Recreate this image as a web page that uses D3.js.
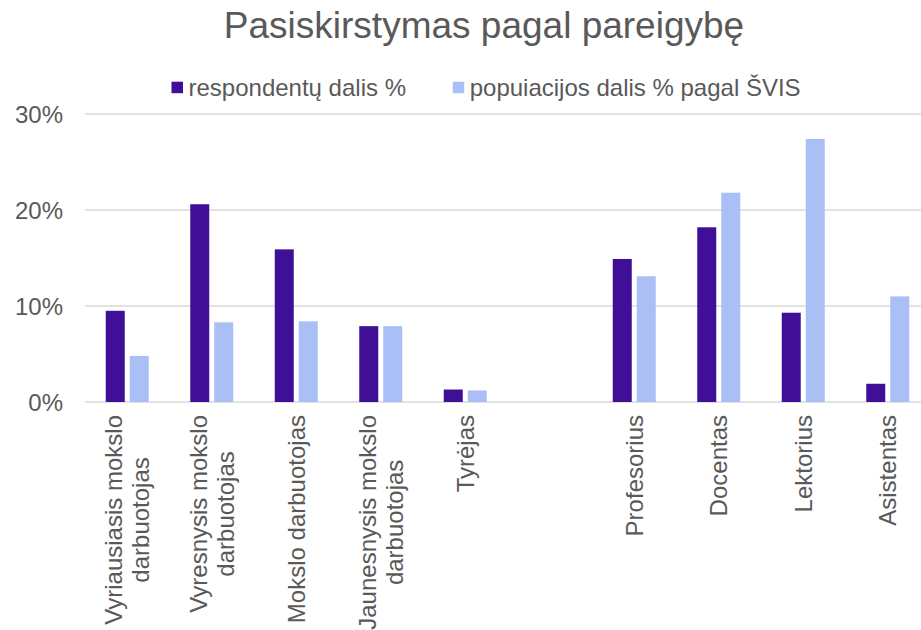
<!DOCTYPE html>
<html>
<head>
<meta charset="utf-8">
<script src="https://cdn.jsdelivr.net/npm/d3@7"></script>
<style>
  body { margin: 0; background: #fff; }
  svg { display: block; font-family: "Liberation Sans", Arial, sans-serif; }
</style>
</head>
<body>
<div id="chart"></div>
<script>
// categories, one empty slot between the two groups
var categories = [
  "Vyriausiasis mokslo\ndarbuotojas",
  "Vyresnysis mokslo\ndarbuotojas",
  "Mokslo darbuotojas",
  "Jaunesnysis mokslo\ndarbuotojas",
  "Tyrėjas",
  "",
  "Profesorius",
  "Docentas",
  "Lektorius",
  "Asistentas"
];
var seriesNames = ["respondentų dalis %", "popuiacijos dalis % pagal ŠVIS"];
var respondentai = [9.5, 20.6, 15.9, 7.9, 1.3, null, 14.9, 18.2, 9.3, 1.9];
var populiacija = [4.8, 8.3, 8.4, 7.9, 1.2, null, 13.1, 21.8, 27.4, 11.0];
var yTicks = [0, 10, 20, 30];
var colors = ["#3f1097", "#a9bff5"];

var width = 921,
  height = 630;

var svg = d3
  .select("#chart")
  .append("svg")
  .attr("width", width)
  .attr("height", height);

var x0 = d3.scaleBand().domain(d3.range(categories.length)).range([85, 930]);
var x1 = d3
  .scaleBand()
  .domain([0, 1])
  .range([0, x0.bandwidth()])
  .paddingInner(0.208)
  .paddingOuter(0.865);
var y = d3.scaleLinear().domain([0, 30]).range([402, 114]);

// gridlines
svg
  .append("g")
  .selectAll("line")
  .data(yTicks)
  .join("line")
  .attr("x1", 85)
  .attr("x2", width)
  .attr("y1", (d) => y(d))
  .attr("y2", (d) => y(d))
  .attr("stroke", "#d9d9d9")
  .attr("stroke-width", 1.5);

// y labels
svg
  .append("g")
  .selectAll("text")
  .data(yTicks)
  .join("text")
  .attr("x", 63)
  .attr("y", (d) => y(d) + 8.5)
  .attr("text-anchor", "end")
  .attr("font-size", 24)
  .attr("fill", "#595959")
  .text((d) => d + "%");

// bars
var series = [respondentai, populiacija];
series.forEach(function (vals, s) {
  svg
    .append("g")
    .selectAll("rect")
    .data(vals.map((v, i) => ({ i: i, v: v })).filter((d) => d.v != null))
    .join("rect")
    .attr("x", (d) => x0(d.i) + x1(s))
    .attr("width", x1.bandwidth())
    .attr("y", (d) => y(d.v))
    .attr("height", (d) => y(0) - y(d.v))
    .attr("fill", colors[s]);
});

// x labels, rotated
var lineGap = 27.3;
var labels = svg
  .append("g")
  .selectAll("g")
  .data(categories.map((c, i) => ({ i: i, lines: c ? c.split("\n") : [] })))
  .join("g");

labels.each(function (d) {
  var g = d3.select(this);
  var cx = x0(d.i) + x0.bandwidth() / 2;
  var texts = g
    .selectAll("text")
    .data(d.lines)
    .join("text")
    .attr("font-size", 24)
    .attr("fill", "#595959")
    .attr("text-anchor", "middle")
    .text((t) => t);
  var maxW = 0;
  texts.each(function () {
    maxW = Math.max(maxW, this.getComputedTextLength());
  });
  var cy = 415 + maxW / 2;
  var n = d.lines.length;
  texts.attr("transform", function (t, k) {
    var bx = cx + 8.4 + (k - (n - 1) / 2) * lineGap;
    return "translate(" + bx + "," + cy + ") rotate(-90)";
  });
});

// title
svg
  .append("text")
  .attr("x", 484)
  .attr("y", 38)
  .attr("text-anchor", "middle")
  .attr("font-size", 37)
  .attr("fill", "#595959")
  .text("Pasiskirstymas pagal pareigybę");

// legend
var legendX = [171.5, 452.7];
var legend = svg
  .append("g")
  .selectAll("g")
  .data(seriesNames)
  .join("g")
  .attr("transform", (d, i) => "translate(" + legendX[i] + ",0)");
legend
  .append("rect")
  .attr("y", 81.7)
  .attr("width", 11.5)
  .attr("height", 11.5)
  .attr("fill", (d, i) => colors[i]);
legend
  .append("text")
  .attr("x", 17)
  .attr("y", 96)
  .attr("font-size", 24)
  .attr("fill", "#595959")
  .text((d) => d);
</script>
</body>
</html>
